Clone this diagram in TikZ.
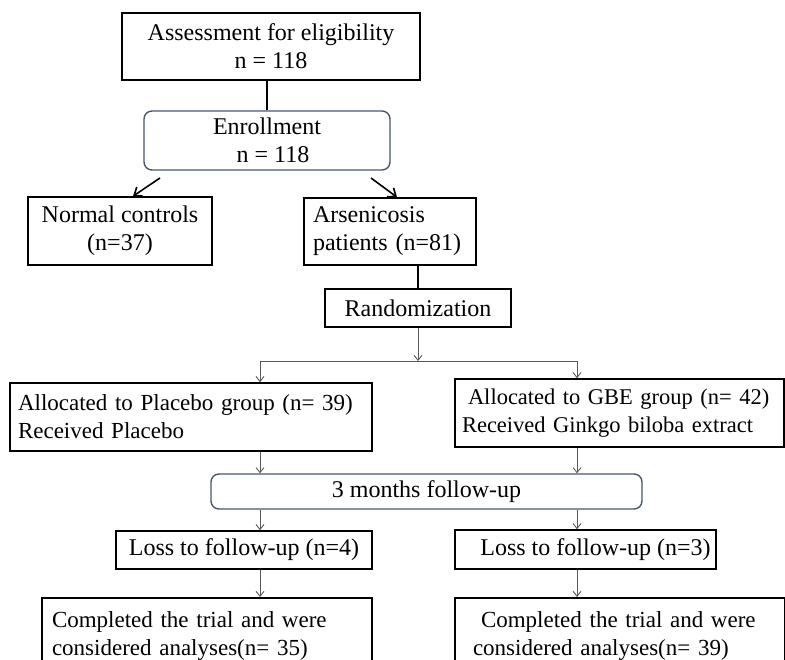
\documentclass[tikz,border=0pt]{standalone}
\usepackage{fontspec}
\setmainfont{Liberation Serif}
\usepackage{tikz}
\usetikzlibrary{arrows.meta}
\usetikzlibrary{positioning}
\definecolor{slate}{RGB}{72,86,110}

\begin{document}
\begin{tikzpicture}[
        x=1pt, y=-1pt,
        font=\fontsize{24}{28}\selectfont,
        flowbox/.style={draw=black, line width=1.6pt, inner sep=6pt, align=center},
        leftbox/.style={flowbox, align=left, font=\fontsize{23}{28}\selectfont},
        roundbox/.style={draw=slate, line width=1.4pt, rounded corners=8pt, align=center},
        bigarrow/.style={-{Straight Barb[length=7pt,width=11pt]}, line width=1.6pt, black},
        smallarrow/.style={-{Straight Barb[length=5pt,width=8pt]}, line width=0.9pt, black!65},
        plainline/.style={line width=0.9pt, black!65},
    ]
    \useasboundingbox (0,0) rectangle (785,660);
    \clip (0,0) rectangle (785,660);
    % top part
    \node[flowbox, minimum width=298, minimum height=67] (assess) at (271,46.5) {Assessment for eligibility\\n = 118};
    \node[roundbox, minimum width=246, minimum height=59] (enroll) at (267,140.5) {Enrollment\\\hspace*{12pt}n = 118};
    \node[flowbox, minimum width=184, minimum height=68] (normal) at (120,231) {Normal controls\\(n=37)};
    \node[leftbox, font=\fontsize{24}{28}\selectfont, minimum width=172, minimum height=67, inner xsep=9pt, text width=154] (arsen) at (390,231.5) {Arsenicosis\\patients (n=81)};
    \node[flowbox, minimum width=186, minimum height=38] (random) at (418,308) {Randomization};
    \coordinate (eL) at (160,178);
    \coordinate (eR) at (371,178);
    \draw[line width=1.6pt] (enroll.north |- assess.south) -- (enroll.north);
    \draw[bigarrow] (eL) -- ([xshift=13]normal.north);
    \draw[bigarrow] (eR) -- ([xshift=7]arsen.north);
    \draw[line width=1.6pt] (random.north |- arsen.south) -- (random.north);
    % the two groups
    \node[leftbox, minimum width=362, minimum height=68, inner xsep=8pt, text width=346] (placebo) at (191,417) {Allocated to Placebo group (n= 39)\\Received Placebo};
    \node[leftbox, font=\fontsize{22.5}{28}\selectfont, minimum width=329, minimum height=68, inner xsep=7pt, text width=315] (gbe) at (619.5,413) {\hspace*{6pt}Allocated to GBE group (n=~42)\\Received Ginkgo biloba extract};
    \node[roundbox, minimum width=431, minimum height=35, inner sep=2pt] (follow) at (426.5,491.5) {3 months follow-up};
    \node[flowbox, minimum width=256, minimum height=38, inner sep=2pt] (lossL) at (244,550) {Loss to follow-up (n=4)};
    \node[flowbox, minimum width=261, minimum height=39, inner sep=2pt] (lossR) at (585.5,549.5) {\hspace*{20pt}Loss to follow-up (n=3)};
    \node[leftbox, anchor=north, minimum width=330, minimum height=76, inner xsep=10pt, text width=310] (doneL) at (207,597) {Completed the trial and were\\considered analyses(n= 35)};
    \node[leftbox, anchor=north, minimum width=330, minimum height=76, inner xsep=18pt, text width=294] (doneR) at (620,597) {\hspace*{8pt}Completed the trial and were\\considered analyses(n= 39)};
    \coordinate (splitL) at (260,361);
    \coordinate (splitR) at (577,361);
    \draw[smallarrow] (random.south) -- (random.south |- splitL);
    \draw[plainline] (splitL) -- (splitR);
    \draw[smallarrow] (splitL) -- (splitL |- placebo.north);
    \draw[smallarrow] (splitR) -- (splitR |- gbe.north);
    \draw[smallarrow] (splitL |- placebo.south) -- (splitL |- follow.north);
    \draw[smallarrow] (splitR |- gbe.south) -- (splitR |- follow.north);
    \draw[smallarrow] (splitL |- follow.south) -- (splitL |- lossL.north);
    \draw[smallarrow] (splitR |- follow.south) -- (splitR |- lossR.north);
    \draw[smallarrow] (splitL |- lossL.south) -- (splitL |- doneL.north);
    \draw[smallarrow] (splitR |- lossR.south) -- (splitR |- doneR.north);
\end{tikzpicture}
\end{document}
